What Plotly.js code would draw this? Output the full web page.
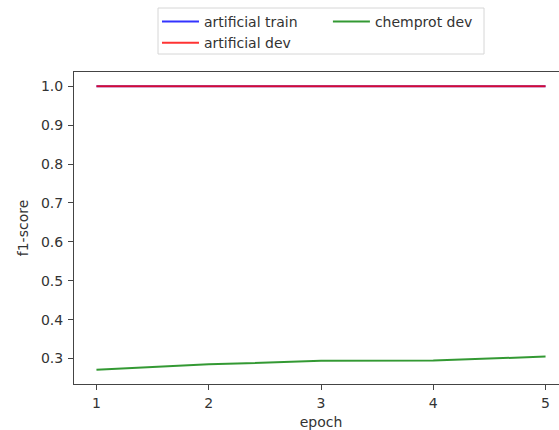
<!DOCTYPE html>
<html>
<head>
<meta charset="utf-8">
<script src="https://cdn.plot.ly/plotly-3.0.1.min.js"></script>
<style>
  html, body { margin: 0; padding: 0; background: #fff; overflow: hidden; }
  #chart { width: 570px; height: 430px; }
</style>
</head>
<body>
<div id="chart"></div>
<script>
// F1-score per training epoch
const epochs = [1, 2, 3, 4, 5];
const artificialTrain = [1.0, 1.0, 1.0, 1.0, 1.0];
const artificialDev = [1.0, 1.0, 1.0, 1.0, 1.0];
const chemprotDev = [0.271, 0.285, 0.294, 0.295, 0.305];
const yTicks = [0.3, 0.4, 0.5, 0.6, 0.7, 0.8, 0.9, 1.0];

const font = { family: 'DejaVu Sans, sans-serif', size: 14, color: '#333' };

// matplotlib-style 5% data margins
const allY = artificialTrain.concat(artificialDev, chemprotDev);
const yMin = Math.min(...allY), yMax = Math.max(...allY);
const yPad = (yMax - yMin) * 0.05;
const xPad = (epochs[epochs.length - 1] - epochs[0]) * 0.05;

const traces = [
  { x: epochs, y: artificialTrain, name: 'artificial train', mode: 'lines',
    line: { color: '#0000ff', width: 2 }, opacity: 0.8, legend: 'legend' },
  { x: epochs, y: artificialDev, name: 'artificial dev', mode: 'lines',
    line: { color: '#ff0000', width: 2 }, opacity: 0.8, legend: 'legend' },
  { x: epochs, y: chemprotDev, name: 'chemprot dev', mode: 'lines',
    line: { color: '#008000', width: 2 }, opacity: 0.8, legend: 'legend2' }
];

const legendCommon = {
  orientation: 'v', bgcolor: 'rgba(0,0,0,0)', borderwidth: 0,
  font: font, xanchor: 'left', yanchor: 'top', yref: 'container',
  tracegroupgap: 0, itemwidth: 37
};

const layout = {
  width: 570, height: 430,
  margin: { l: 74, r: 2, t: 72, b: 46 },
  paper_bgcolor: '#fff', plot_bgcolor: '#fff',
  font: font,
  showlegend: true,
  legend: Object.assign({}, legendCommon, { x: 0.168, y: 1 - 6 / 430 }),
  legend2: Object.assign({}, legendCommon, { x: 0.514, y: 1 - 6 / 430 }),
  xaxis: {
    range: [epochs[0] - xPad, epochs[epochs.length - 1] + xPad],
    tickmode: 'array', tickvals: epochs, ticktext: epochs.map(String),
    ticks: 'outside', ticklen: 5, tickcolor: '#444', tickwidth: 1,
    ticklabelstandoff: 1,
    showgrid: false, zeroline: false,
    showline: true, linecolor: '#444', linewidth: 1, mirror: true,
    title: { text: 'epoch', font: font, standoff: 9 }
  },
  yaxis: {
    range: [yMin - yPad, yMax + yPad],
    tickmode: 'array', tickvals: yTicks, ticktext: yTicks.map(v => v.toFixed(1)),
    ticks: 'outside', ticklen: 5, tickcolor: '#444', tickwidth: 1,
    ticklabelstandoff: 2,
    showgrid: false, zeroline: false,
    showline: true, linecolor: '#444', linewidth: 1, mirror: true,
    title: { text: 'f1-score', font: font, standoff: 9 }
  },
  shapes: [{
    type: 'rect', xref: 'paper', yref: 'paper',
    x0: (158 - 74) / 494, x1: (484 - 74) / 494,
    y0: (384 - 54) / 312, y1: (384 - 8) / 312,
    line: { color: '#d6d6d6', width: 1 }, fillcolor: 'rgba(255,255,255,0.8)',
    layer: 'below'
  }]
};

Plotly.newPlot('chart', traces, layout, { displayModeBar: false, staticPlot: true });
</script>
</body>
</html>
